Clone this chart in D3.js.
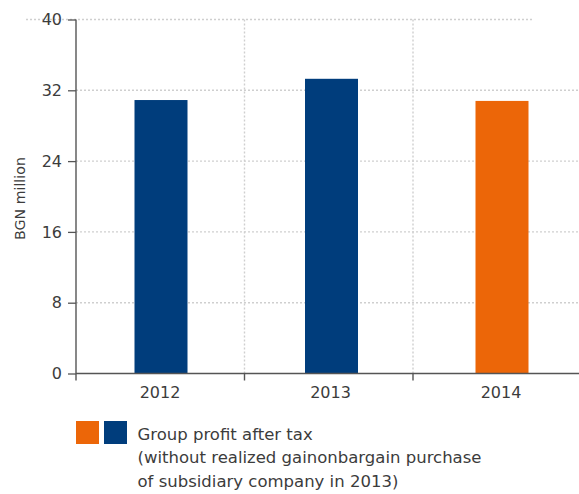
<!DOCTYPE html>
<html>
<head>
<meta charset="utf-8">
<script src="https://cdn.jsdelivr.net/npm/d3@7"></script>
<style>
  html, body { margin: 0; padding: 0; background: #fff; }
  svg { display: block; font-family: "DejaVu Sans", sans-serif; }
</style>
</head>
<body>
<svg id="chart" width="579" height="494"></svg>
<script>
// Group profit after tax, BGN million
const years = ["2012", "2013", "2014"];
const profit = [30.9, 33.3, 30.8];
const barColors = ["#003d7c", "#003d7c", "#ec6608"];
const yTicks = [0, 8, 16, 24, 32, 40];
const yTitle = "BGN million";
const legendSwatches = ["#ec6608", "#003d7c"];
const legendLines = [
  "Group profit after tax",
  "(without realized gainonbargain purchase",
  "of subsidiary company in 2013)"
];

const svg = d3.select("#chart");
const plotLeft = 76, plotRight = 579, plotTop = 19.5, plotBottom = 373.5;
const font = "DejaVu Sans, sans-serif";

const y = d3.scaleLinear().domain([0, 40]).range([plotBottom, plotTop]);
// category slots (grid boundaries) and bar centres
const slots = d3.scaleBand().domain(years).range([plotLeft, 581.5]);
const xc = d3.scalePoint().domain(years).range([161, 502]);
const barW = 53;

const gridColor = "#cfcfcf";
const axisColor = "#555";
const textColor = "#3c3c3c";

// horizontal grid
svg.append("g").selectAll("line").data(yTicks.filter(t => t > 0)).join("line")
  .attr("x1", t => t === 40 ? 26 : plotLeft)
  .attr("x2", t => t === 40 ? 532 : plotRight)
  .attr("y1", t => y(t)).attr("y2", t => y(t))
  .attr("stroke", gridColor).attr("stroke-width", 1.4)
  .attr("stroke-dasharray", "2,2");

// vertical grid at category boundaries
svg.append("g").selectAll("line").data(years.slice(1)).join("line")
  .attr("x1", d => slots(d)).attr("x2", d => slots(d))
  .attr("y1", plotTop).attr("y2", plotBottom)
  .attr("stroke", gridColor).attr("stroke-width", 1.4)
  .attr("stroke-dasharray", "2,2");

// bars
svg.append("g").selectAll("rect").data(years).join("rect")
  .attr("x", (d) => xc(d) - barW / 2)
  .attr("width", barW)
  .attr("y", (d, i) => y(profit[i]))
  .attr("height", (d, i) => y(0) - y(profit[i]))
  .attr("fill", (d, i) => barColors[i]);

// y axis
const yAxis = svg.append("g").attr("transform", `translate(${plotLeft},0)`)
  .call(d3.axisLeft(y).tickValues(yTicks).tickSize(8).tickPadding(6).tickFormat(d3.format("d")));
yAxis.select(".domain").remove();
yAxis.attr("font-family", font).attr("font-size", 16);
yAxis.selectAll(".tick line").attr("stroke", axisColor).attr("stroke-width", 1.3);
yAxis.selectAll(".tick text").attr("fill", textColor);
svg.append("line").attr("x1", plotLeft).attr("x2", plotLeft)
  .attr("y1", plotTop).attr("y2", plotBottom + 7)
  .attr("stroke", axisColor).attr("stroke-width", 1.4);

// x axis
svg.append("line").attr("x1", plotLeft).attr("x2", plotRight)
  .attr("y1", plotBottom).attr("y2", plotBottom)
  .attr("stroke", axisColor).attr("stroke-width", 1.6);
svg.append("g").selectAll("line").data(years.slice(1)).join("line")
  .attr("x1", d => slots(d)).attr("x2", d => slots(d))
  .attr("y1", plotBottom).attr("y2", plotBottom + 7)
  .attr("stroke", axisColor).attr("stroke-width", 1.4);
svg.append("g").selectAll("text").data(years).join("text")
  .attr("x", d => xc(d) - 1).attr("y", plotBottom + 24)
  .attr("text-anchor", "middle")
  .attr("fill", textColor).attr("font-size", 16)
  .text(d => d);

// y title
svg.append("text")
  .attr("transform", "translate(25,198.5) rotate(-90)")
  .attr("text-anchor", "middle")
  .attr("fill", textColor).attr("font-size", 14.2)
  .text(yTitle);

// legend
const lg = svg.append("g");
lg.selectAll("rect").data(legendSwatches).join("rect")
  .attr("x", (d, i) => 76 + i * 28).attr("y", 421)
  .attr("width", 23).attr("height", 23)
  .attr("fill", d => d);
lg.selectAll("text").data(legendLines).join("text")
  .attr("x", 137.5).attr("y", (d, i) => 440 + i * 23.3)
  .attr("fill", textColor).attr("font-size", 16.5)
  .text(d => d);
</script>
</body>
</html>
